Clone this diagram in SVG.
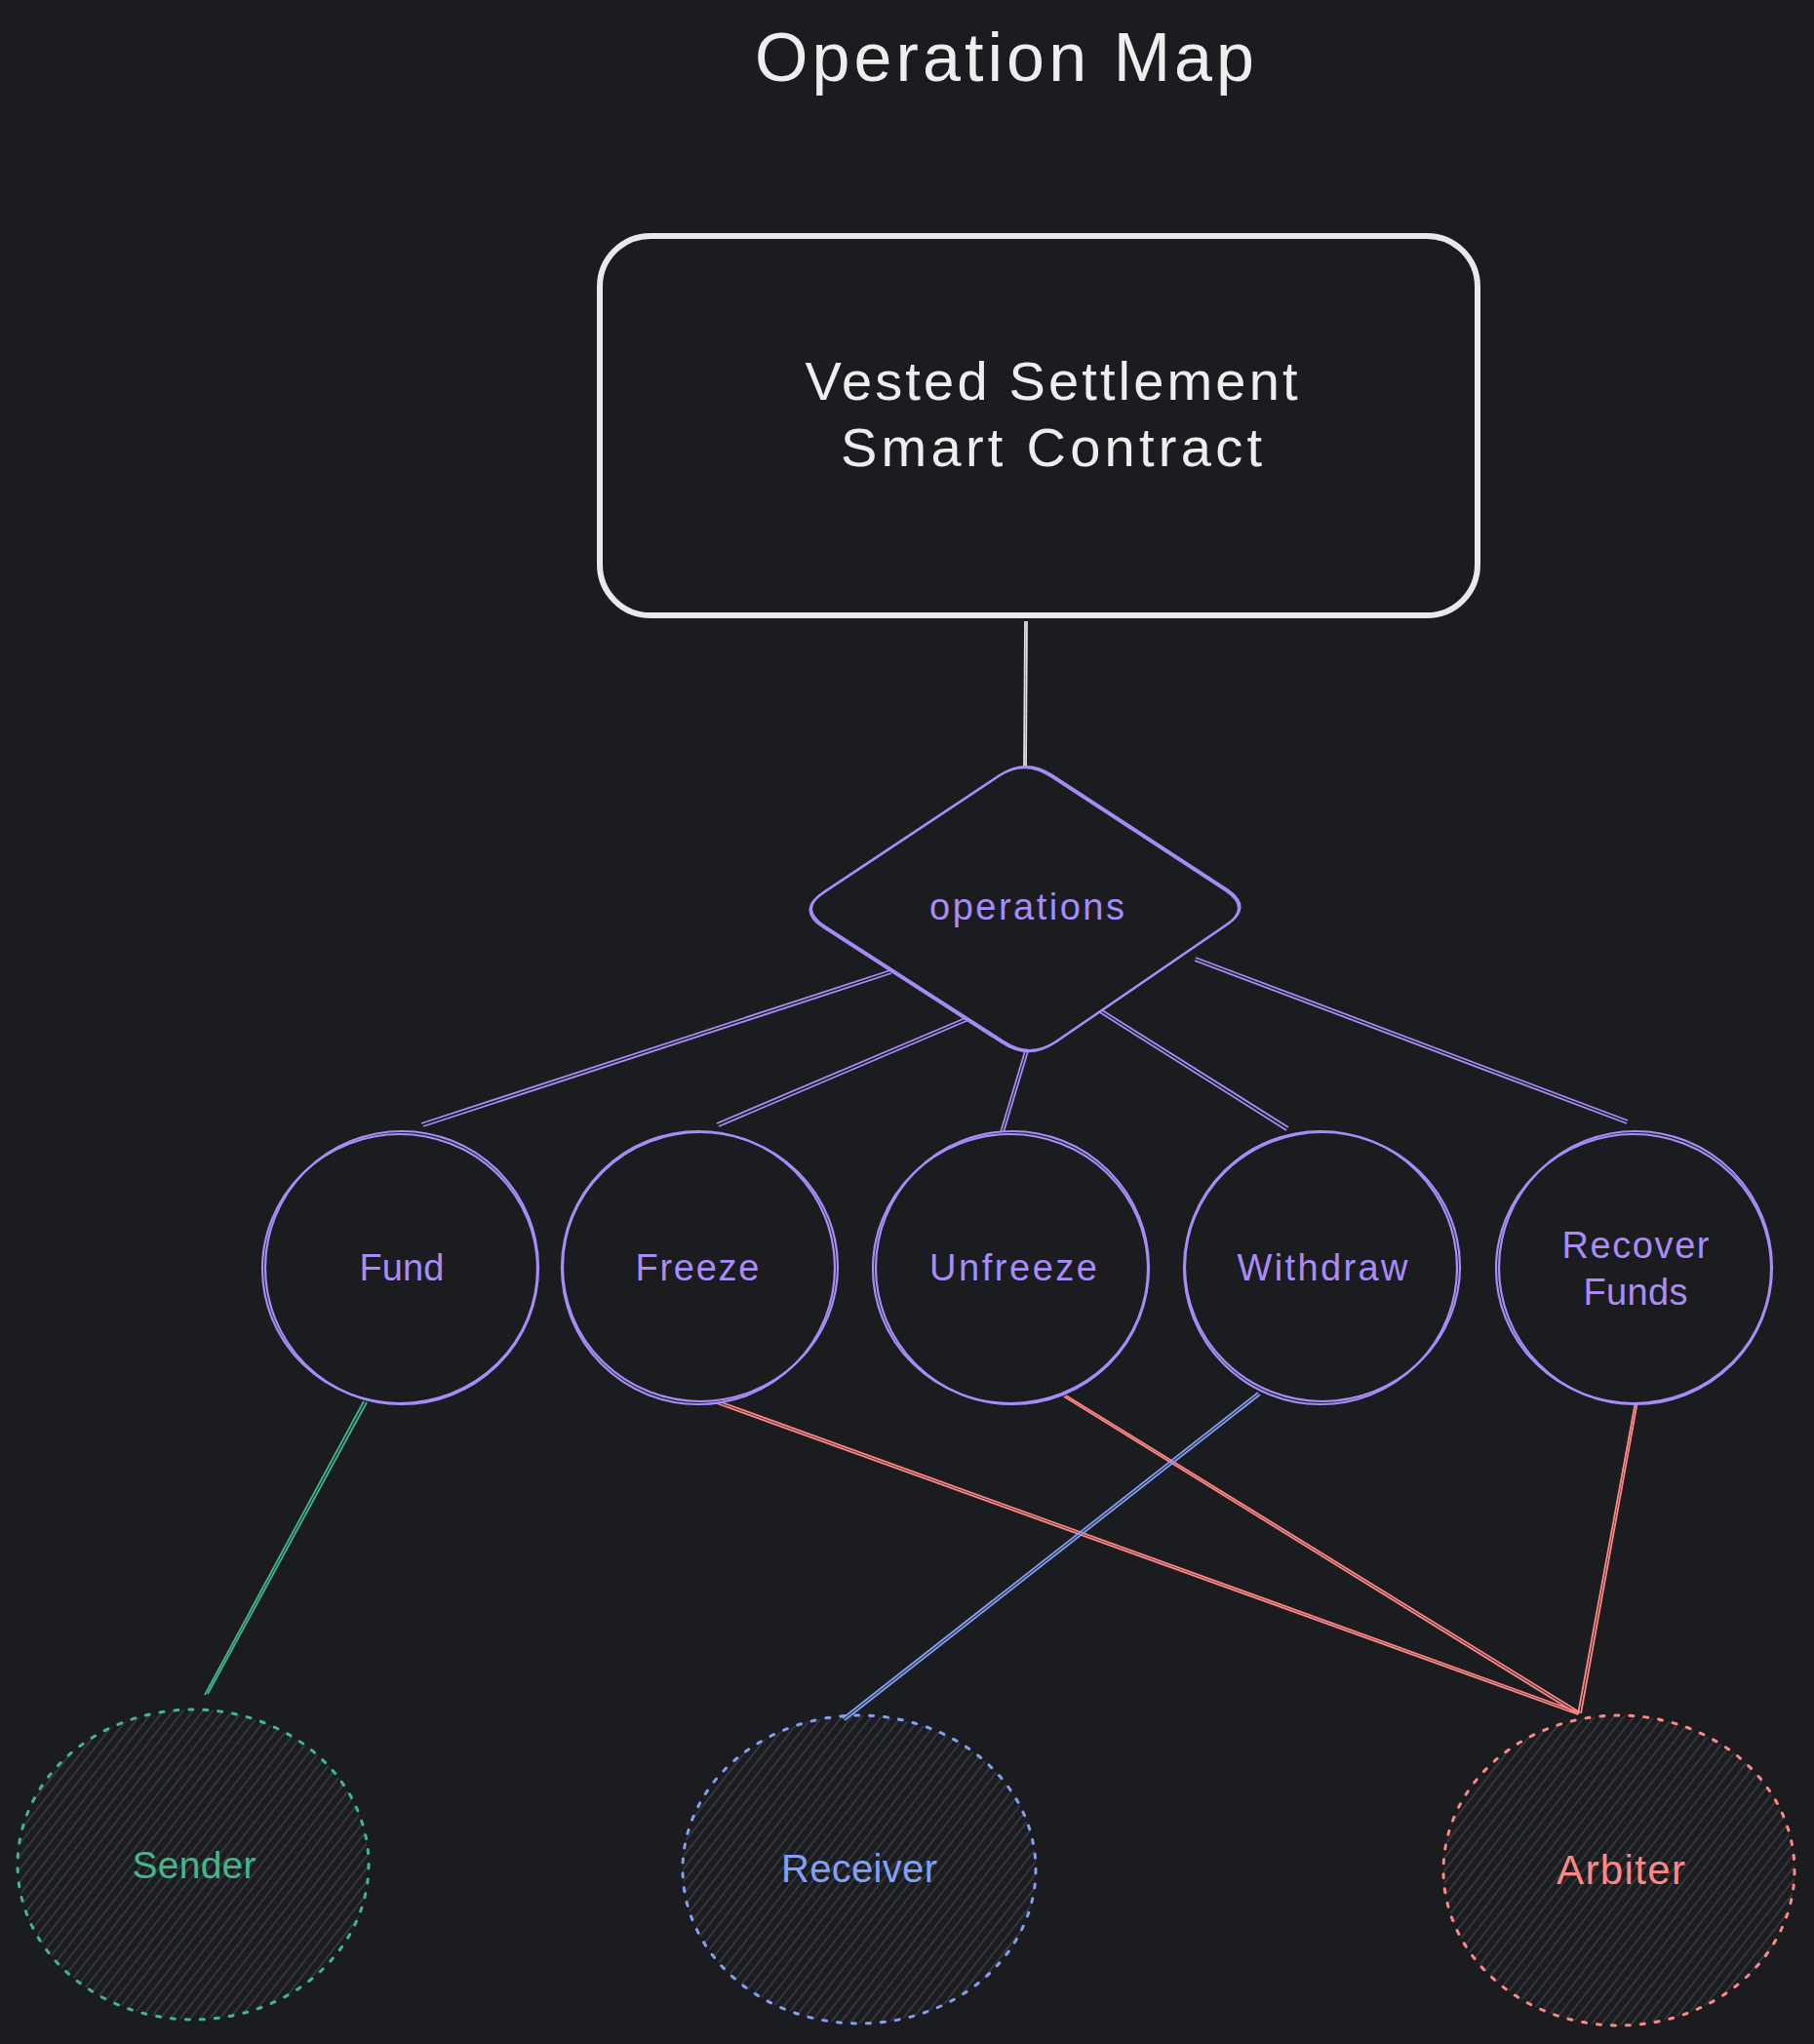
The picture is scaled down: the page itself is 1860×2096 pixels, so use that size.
<svg xmlns="http://www.w3.org/2000/svg" width="1860" height="2096" viewBox="0 0 1860 2096">
<defs>
<pattern id="hatch" patternUnits="userSpaceOnUse" width="8" height="8" patternTransform="rotate(-52)">
<line x1="0" y1="4" x2="8" y2="4" stroke="#3b3e44" stroke-width="1.5"/>
</pattern>
<style>
.bg{fill:#1b1c1f}
.t{font-family:"Liberation Sans",Arial,sans-serif;text-anchor:middle}
.title{fill:#eeeeee;font-size:70px}
.box{fill:#1b1c1f;stroke:#e9e9e9;stroke-width:6}
.boxt{fill:#eeeeee;font-size:56px}
.pur{fill:none;stroke:#a88cf7;stroke-width:2.2}
.purf{fill:#1b1c1f;stroke:#a88cf7;stroke-width:2.2}
.pt{fill:#a88cf7;font-size:38px}
.ot{fill:#a88cf7;font-size:38px}
.cl{fill:none;stroke-width:1.8}
.wl{stroke:#e0e0e0}
.pl{stroke:#a88cf7}
.gl{stroke:#40b88c}
.bl{stroke:#82a0f5}
.rl{stroke:#ff8787}
.dash{fill:url(#hatch);stroke-width:3;stroke-dasharray:4 11;stroke-linecap:round}
.gt{fill:#40b88c;font-size:39px}
.bt{fill:#82a0f5;font-size:40px}
.rt{fill:#ff8787;font-size:42px}
</style>
</defs>
<rect class="bg" x="0" y="0" width="1860" height="2096"/>
<text class="t title" x="1030" y="83" textLength="512" lengthAdjust="spacing">Operation Map</text>

<g id="connectors">
<line class="cl wl" x1="1051" y1="637" x2="1050" y2="792"/>
<line class="cl wl" x1="1053" y1="637" x2="1052" y2="790"/>
<line class="cl pl" x1="913" y1="995" x2="432" y2="1152"/>
<line class="cl pl" x1="914" y1="998" x2="434" y2="1155"/>
<line class="cl pl" x1="992" y1="1043" x2="735" y2="1152"/>
<line class="cl pl" x1="993" y1="1046" x2="737" y2="1155"/>
<line class="cl pl" x1="1051" y1="1078" x2="1026" y2="1161"/>
<line class="cl pl" x1="1054" y1="1078" x2="1029" y2="1161"/>
<line class="cl pl" x1="1127" y1="1034" x2="1321" y2="1156"/>
<line class="cl pl" x1="1126" y1="1037" x2="1319" y2="1159"/>
<line class="cl pl" x1="1226" y1="982" x2="1669" y2="1149"/>
<line class="cl pl" x1="1225" y1="985" x2="1668" y2="1152"/>
<line class="cl gl" x1="373" y1="1437" x2="210" y2="1738"/>
<line class="cl gl" x1="376" y1="1438" x2="213" y2="1737"/>
<line class="cl rl" x1="735" y1="1439" x2="1618" y2="1758"/>
<line class="cl rl" x1="737" y1="1437" x2="1619" y2="1756"/>
<line class="cl rl" x1="1091" y1="1432" x2="1618" y2="1758"/>
<line class="cl rl" x1="1093" y1="1431" x2="1620" y2="1756"/>
<line class="cl bl" x1="1290" y1="1428" x2="864" y2="1762"/>
<line class="cl bl" x1="1292" y1="1430" x2="866" y2="1764"/>
<line class="cl rl" x1="1677" y1="1437" x2="1618" y2="1758"/>
<line class="cl rl" x1="1679" y1="1437" x2="1621" y2="1757"/>
</g>

<g id="contract">
<rect class="box" x="615" y="242" width="900" height="389" rx="52"/>
<text class="t boxt" x="1078" y="410" textLength="505" lengthAdjust="spacing">Vested Settlement</text>
<text class="t boxt" x="1078" y="478" textLength="432" lengthAdjust="spacing">Smart Contract</text>
</g>

<g id="operations">
<path class="purf" d="M1079,795 L1258,912 Q1285,930 1258,948 L1083,1068 Q1056,1086 1029,1068 L846,950 Q818,932 846,914 L1025,795 Q1052,777 1079,795 Z"/>
<path class="pur" transform="translate(-1.5,1.2)" d="M1079,795 L1258,912 Q1285,930 1258,948 L1083,1068 Q1056,1086 1029,1068 L846,950 Q818,932 846,914 L1025,795 Q1052,777 1079,795 Z"/>
<text class="t ot" x="1053" y="943" textLength="200" lengthAdjust="spacing">operations</text>
</g>

<g id="fund">
<ellipse class="purf" cx="412" cy="1300" rx="140" ry="140"/>
<ellipse class="pur" cx="410" cy="1301" rx="141" ry="138"/>
<text class="t pt" x="412" y="1313" textLength="87" lengthAdjust="spacing">Fund</text>
</g>
<g id="freeze">
<ellipse class="purf" cx="716" cy="1300" rx="140" ry="140"/>
<ellipse class="pur" cx="718" cy="1299" rx="141" ry="138"/>
<text class="t pt" x="715" y="1313" textLength="127" lengthAdjust="spacing">Freeze</text>
</g>
<g id="unfreeze">
<ellipse class="purf" cx="1038" cy="1300" rx="140" ry="140"/>
<ellipse class="pur" cx="1036" cy="1301" rx="141" ry="138"/>
<text class="t pt" x="1039" y="1313" textLength="172" lengthAdjust="spacing">Unfreeze</text>
</g>
<g id="withdraw">
<ellipse class="purf" cx="1354" cy="1300" rx="140" ry="140"/>
<ellipse class="pur" cx="1356" cy="1299" rx="141" ry="138"/>
<text class="t pt" x="1356" y="1313" textLength="175" lengthAdjust="spacing">Withdraw</text>
</g>
<g id="recover">
<ellipse class="purf" cx="1677" cy="1300" rx="140" ry="140"/>
<ellipse class="pur" cx="1675" cy="1301" rx="141" ry="138"/>
<text class="t pt" x="1677" y="1290" textLength="151" lengthAdjust="spacing">Recover</text>
<text class="t pt" x="1677" y="1338" textLength="107" lengthAdjust="spacing">Funds</text>
</g>

<g id="sender">
<ellipse class="dash" stroke="#40b88c" cx="198" cy="1912" rx="180" ry="159"/>
<text class="t gt" x="199" y="1926" textLength="127" lengthAdjust="spacing">Sender</text>
</g>
<g id="receiver">
<ellipse class="dash" stroke="#82a0f5" cx="881" cy="1917" rx="181" ry="158"/>
<text class="t bt" x="881" y="1930" textLength="160" lengthAdjust="spacing">Receiver</text>
</g>
<g id="arbiter">
<ellipse class="dash" stroke="#ff8787" cx="1660" cy="1918" rx="180" ry="159"/>
<text class="t rt" x="1662" y="1932" textLength="132" lengthAdjust="spacing">Arbiter</text>
</g>
</svg>
